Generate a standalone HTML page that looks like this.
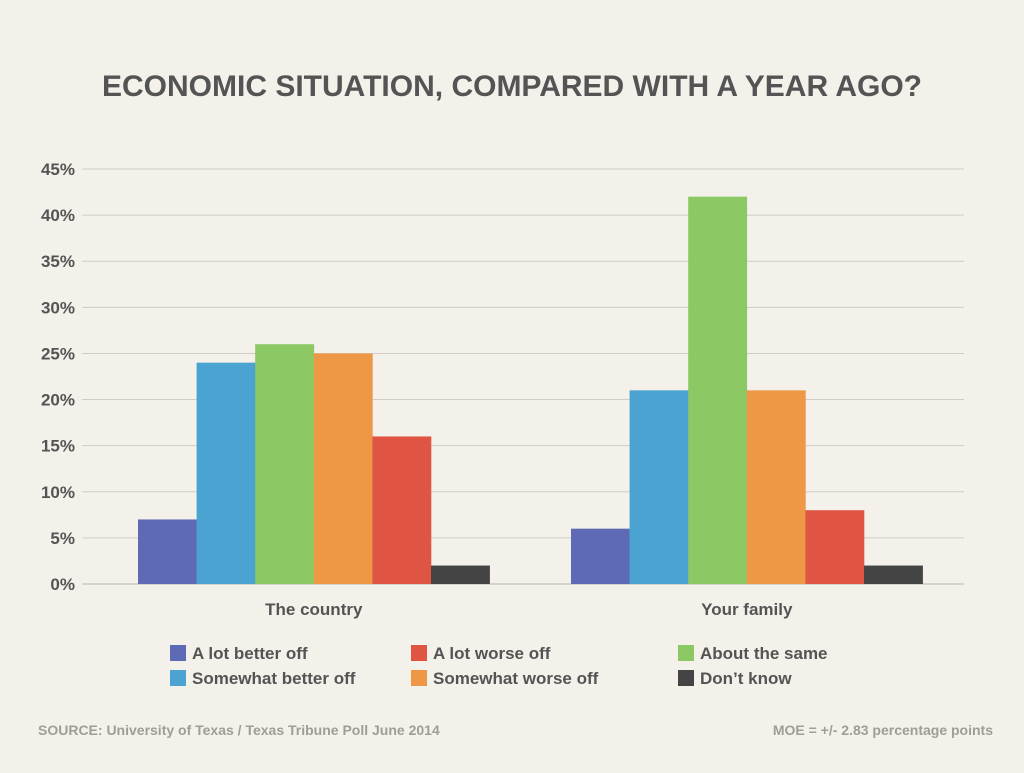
<!DOCTYPE html>
<html><head><meta charset="utf-8">
<style>
html,body{margin:0;padding:0;background:#f3f1ea;}
body{width:1024px;height:768px;overflow:hidden;font-family:"Liberation Sans","DejaVu Sans",sans-serif;}
</style></head>
<body>
<svg id="chart" width="1024" height="768" xmlns="http://www.w3.org/2000/svg">
<rect width="1024" height="768" fill="#f3f1ea"/>
<text x="512" y="96" text-anchor="middle" font-size="30" font-weight="bold" fill="#545454">ECONOMIC SITUATION, COMPARED WITH A YEAR AGO?</text>
<g id="grid"></g>
<g id="bars"></g>
<g id="legend"></g>
<text x="38" y="735" font-size="14" font-weight="bold" fill="#a09d98">SOURCE: University of Texas / Texas Tribune Poll June 2014</text>
<text x="993" y="735" text-anchor="end" font-size="14" font-weight="bold" fill="#a09d98">MOE = +/- 2.83 percentage points</text>
</svg>
<script>
const categories = ["The country", "Your family"];
const seriesNames = ["A lot better off","Somewhat better off","About the same","Somewhat worse off","A lot worse off","Don\u2019t know"];
const seriesColors = ["#5f6ab6","#4aa3d0","#8cc864","#ee9846","#e05443","#444444"];
const valuesCountry = [7, 24, 26, 25, 16, 2];
const valuesFamily = [6, 21, 42, 21, 8, 2];
const tickValues = [0,5,10,15,20,25,30,35,40,45];
const tickLabels = ["0%","5%","10%","15%","20%","25%","30%","35%","40%","45%"];
const legendOrder = [0,4,2,1,3,5];

const NS="http://www.w3.org/2000/svg";
const x0=82,x1=964,y0=584,y45=169,maxV=45;
function yS(v){return y0-(v/maxV)*(y0-y45);}
const groupStart=138,catStep=433,barW=58.6;
function xS(ci,si){return groupStart+ci*catStep+si*barW;}
function mk(tag,attrs,parent){const e=document.createElementNS(NS,tag);for(const k in attrs)e.setAttribute(k,attrs[k]);parent.appendChild(e);return e;}

const grid=document.getElementById('grid');
tickValues.forEach((t,i)=>{
  const l=mk('line',{x1:x0,x2:x1,y1:yS(t),y2:yS(t),stroke:t===0?'#b8b5ae':'#cfccc5','stroke-width':1},grid);
  
  
  const tx=mk('text',{x:75,y:yS(t)+6,'text-anchor':'end','font-size':17,'font-weight':'bold',fill:'#545454'},grid);
  tx.textContent=tickLabels[i];
  
  
});
const bars=document.getElementById('bars');
const allVals=[valuesCountry,valuesFamily];
categories.forEach((c,ci)=>{
  allVals[ci].forEach((v,si)=>{
    const r=mk('rect',{x:xS(ci,si),y:yS(v),width:barW+0.3,height:y0-yS(v),fill:seriesColors[si]},bars);
    
    
  });
  const t=mk('text',{x:groupStart+ci*catStep+3*barW,y:615,'text-anchor':'middle','font-size':17,'font-weight':'bold',fill:'#545454'},bars);
  t.textContent=c;
  
  
});
const legend=document.getElementById('legend');
const colX=[170,411,678],rowY=[645,670];
legendOrder.forEach((si,i)=>{
  const col=i%3,row=Math.floor(i/3);
  const g=mk('g',{},legend);
  
  
  mk('rect',{x:colX[col],y:rowY[row],width:16,height:16,fill:seriesColors[si]},g);
  const t=mk('text',{x:colX[col]+22,y:rowY[row]+14,'font-size':17,'font-weight':'bold',fill:'#545454'},g);
  t.textContent=seriesNames[si];
});
</script>
</body></html>
